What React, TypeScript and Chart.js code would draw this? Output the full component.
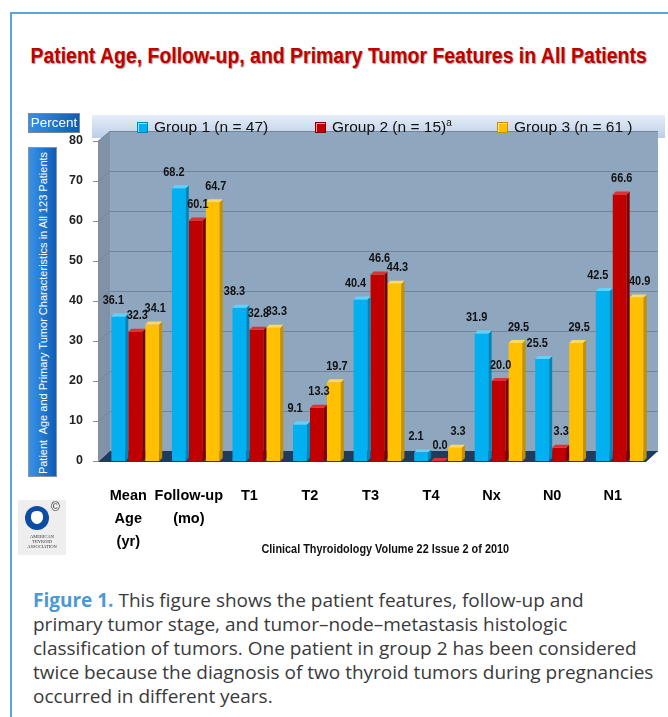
import React, { useEffect, useRef } from 'react';
import { Chart, registerables } from 'chart.js';
Chart.register(...registerables);

const categories: string[][] = [
  ['Mean', 'Age', '(yr)'],
  ['Follow-up', '(mo)'],
  ['T1'],
  ['T2'],
  ['T3'],
  ['T4'],
  ['Nx'],
  ['N0'],
  ['N1'],
];
const group1 = [36.1, 68.2, 38.3, 9.1, 40.4, 2.1, 31.9, 25.5, 42.5];
const group2 = [32.3, 60.1, 32.8, 13.3, 46.6, 0.0, 20.0, 3.3, 66.6];
const group3 = [34.1, 64.7, 33.3, 19.7, 44.3, 3.3, 29.5, 29.5, 40.9];
const seriesNames = ['Group 1 (n = 47)', 'Group 2 (n = 15)', 'Group 3 (n = 61 )'];
const seriesSup = ['', 'a', ''];
const seriesColors = ['#00b0f0', '#c00000', '#ffc000'];
const seriesSide = ['#0085b8', '#7e0000', '#c49000'];
const seriesTop = ['#5fd3ff', '#e03030', '#ffd860'];
const yMin = 0;
const yMax = 80;
const yStep = 10;

const SANS = "'Liberation Sans', Arial, sans-serif";

const labelOffsets = [-5, 2, 3];

const wallPlugin = {
  id: 'wall3d',
  beforeDraw(chart: any) {
    const { ctx, chartArea, scales } = chart;
    const y = scales.y;
    const ax = chartArea.left - 7;
    const dx = 12;
    const dy = 10;
    const right = chartArea.right + 8;
    const top = y.getPixelForValue(yMax);
    const bottom = y.getPixelForValue(yMin);
    ctx.save();
    ctx.fillStyle = '#8fa6bf';
    ctx.fillRect(ax + dx, top - dy, right - ax - dx, bottom - top);
    ctx.fillStyle = '#7f92a8';
    ctx.beginPath();
    ctx.moveTo(ax, top);
    ctx.lineTo(ax + dx, top - dy);
    ctx.lineTo(ax + dx, bottom - dy);
    ctx.lineTo(ax, bottom);
    ctx.closePath();
    ctx.fill();
    ctx.strokeStyle = '#72859b';
    ctx.lineWidth = 1;
    for (let v = yMin; v <= yMax; v += yStep) {
      const py = Math.round(y.getPixelForValue(v)) + 0.5;
      ctx.beginPath();
      ctx.moveTo(ax, py);
      ctx.lineTo(ax + dx, py - dy);
      ctx.lineTo(right, py - dy);
      ctx.stroke();
    }
    ctx.fillStyle = '#1f3b5e';
    ctx.beginPath();
    ctx.moveTo(ax, bottom + 1);
    ctx.lineTo(right - dx, bottom + 1);
    ctx.lineTo(right, bottom - dy);
    ctx.lineTo(ax + dx, bottom - dy);
    ctx.closePath();
    ctx.fill();
    ctx.strokeStyle = '#8c8c8c';
    ctx.beginPath();
    ctx.moveTo(ax + 0.5, top);
    ctx.lineTo(ax + 0.5, bottom + 1);
    for (let v = yMin; v <= yMax; v += yStep) {
      const py = Math.round(y.getPixelForValue(v)) + 0.5;
      ctx.moveTo(ax - 5, py);
      ctx.lineTo(ax, py);
    }
    ctx.stroke();
    ctx.restore();
  },
};

const bar3dPlugin = {
  id: 'bar3d',
  afterDatasetsDraw(chart: any) {
    const { ctx } = chart;
    const d = 3;
    ctx.save();
    chart.data.datasets.forEach((ds: any, i: number) => {
      const meta = chart.getDatasetMeta(i);
      meta.data.forEach((el: any) => {
        const { x, y, base, width } = el.getProps(['x', 'y', 'base', 'width'], true);
        const l = x - width / 2;
        const r = x + width / 2;
        ctx.fillStyle = seriesSide[i];
        ctx.beginPath();
        ctx.moveTo(r, y);
        ctx.lineTo(r + d, y - d);
        ctx.lineTo(r + d, base - d);
        ctx.lineTo(r, base);
        ctx.closePath();
        ctx.fill();
        ctx.fillStyle = seriesTop[i];
        ctx.beginPath();
        ctx.moveTo(l, y);
        ctx.lineTo(l + d, y - d);
        ctx.lineTo(r + d, y - d);
        ctx.lineTo(r, y);
        ctx.closePath();
        ctx.fill();
      });
    });
    ctx.restore();
  },
};

const valueLabelPlugin = {
  id: 'valueLabels',
  afterDatasetsDraw(chart: any) {
    const { ctx } = chart;
    chart.data.datasets.forEach((ds: any, i: number) => {
      const meta = chart.getDatasetMeta(i);
      meta.data.forEach((el: any, j: number) => {
        const { x, y } = el.getProps(['x', 'y'], true);
        ctx.save();
        ctx.translate(x + labelOffsets[i], y - 16);
        ctx.scale(0.84, 1);
        ctx.font = `bold 13px ${SANS}`;
        ctx.fillStyle = '#111';
        ctx.textAlign = 'center';
        ctx.textBaseline = 'middle';
        ctx.fillText(Number(ds.data[j]).toFixed(1), 0, 0);
        ctx.restore();
      });
    });
  },
};

function ChartCanvas() {
  const ref = useRef<HTMLCanvasElement | null>(null);
  useEffect(() => {
    if (!ref.current) return;
    const chart = new Chart(ref.current, {
      type: 'bar',
      data: {
        labels: categories,
        datasets: [group1, group2, group3].map((data, i) => ({
          label: seriesNames[i],
          data,
          backgroundColor: seriesColors[i],
          borderWidth: 0,
          categoryPercentage: 0.84,
          barPercentage: 0.82,
        })),
      },
      options: {
        responsive: false,
        animation: false,
        events: [],
        layout: { padding: { left: 0, right: 18, top: 141, bottom: 19 } },
        plugins: {
          legend: { display: false },
          tooltip: { enabled: false },
          title: { display: false },
        },
        scales: {
          x: {
            grid: { display: false, drawTicks: false },
            border: { display: false },
            ticks: {
              color: '#000',
              font: { family: SANS, size: 14.5, weight: 'bold', lineHeight: 1.6 },
              padding: 23,
              labelOffset: -7,
              maxRotation: 0,
              autoSkip: false,
            },
            afterFit: (s: any) => {
              s.height = 100;
            },
          },
          y: {
            min: yMin,
            max: yMax,
            grid: { display: false, drawTicks: false },
            border: { display: false },
            ticks: {
              stepSize: yStep,
              color: '#222',
              font: { family: SANS, size: 12.5, weight: 'bold' },
              padding: 22,
            },
            afterFit: (s: any) => {
              s.width = 105;
            },
          },
        },
      } as any,
      plugins: [wallPlugin, bar3dPlugin, valueLabelPlugin],
    });
    return () => chart.destroy();
  }, []);
  return (
    <canvas
      ref={ref}
      width={668}
      height={580}
      style={{ position: 'absolute', left: 0, top: 0, width: 668, height: 580 }}
    />
  );
}

const legendLefts = [137, 315, 497];

export default function App() {
  return (
    <div style={{ position: 'absolute', left: 0, top: 0, width: 668, height: 717, background: '#fff', overflow: 'hidden' }}>
      <div style={{ position: 'absolute', left: 10, top: 12, width: 2, height: 705, background: '#5aa7df' }} />
      <div style={{ position: 'absolute', left: 10, top: 12, width: 658, height: 2, background: '#5aa7df' }} />
      <div
        style={{
          position: 'absolute',
          left: -200,
          top: 43,
          width: 1077,
          textAlign: 'center',
          whiteSpace: 'nowrap',
        }}
      >
        <span
          style={{
            display: 'inline-block',
            transform: 'scaleX(0.884)',
            transformOrigin: 'center',
            fontFamily: SANS,
            fontWeight: 'bold',
            fontSize: 22,
            color: '#c00000',
            textShadow: '1px 1px 1px #9a9a9a',
          }}
        >
          Patient Age, Follow-up, and Primary Tumor Features in All Patients
        </span>
      </div>
      <div
        style={{
          position: 'absolute',
          left: 92,
          top: 115,
          width: 573,
          height: 23,
          background: 'linear-gradient(#e6edf8, #bccfe7)',
        }}
      />
      <ChartCanvas />
      {seriesNames.map((name, i) => (
        <div
          key={name}
          style={{
            position: 'absolute',
            left: legendLefts[i],
            top: 116,
            height: 22,
            display: 'flex',
            alignItems: 'center',
            fontFamily: SANS,
            fontSize: 15.5,
            color: '#111',
            whiteSpace: 'nowrap',
          }}
        >
          <span
            style={{
              display: 'inline-block',
              width: 9,
              height: 9,
              marginRight: 6,
              background: seriesColors[i],
              border: `1px solid ${seriesSide[i]}`,
              boxShadow: 'inset 1px 1px 0 rgba(255,255,255,0.6)',
            }}
          />
          <span>
            {name}
            {seriesSup[i] ? <sup style={{ fontSize: 10 }}>{seriesSup[i]}</sup> : null}
          </span>
        </div>
      ))}
      <div
        style={{
          position: 'absolute',
          left: 28,
          top: 113,
          width: 52,
          height: 20,
          background: 'linear-gradient(90deg, #3591e6, #0d5cb6)',
          border: '1px solid #7a8796',
          boxSizing: 'border-box',
          color: '#fff',
          fontFamily: SANS,
          fontSize: 13.5,
          lineHeight: '18px',
          textAlign: 'center',
        }}
      >
        Percent
      </div>
      <div
        style={{
          position: 'absolute',
          left: 28,
          top: 147,
          width: 29,
          height: 330,
          background: 'linear-gradient(90deg, #3a93e8, #0e5db8)',
          border: '1px solid #8a94a0',
          boxSizing: 'border-box',
        }}
      >
        <div
          style={{
            position: 'absolute',
            left: 14,
            top: 165,
            transform: 'translate(-50%, -50%) rotate(-90deg)',
            whiteSpace: 'nowrap',
            color: '#fff',
            fontFamily: SANS,
            fontSize: 11,
          }}
        >
          Patient&nbsp; Age and Primary Tumor Characteristics in All 123 Patients
        </div>
      </div>
      <div
        style={{
          position: 'absolute',
          left: 18,
          top: 500,
          width: 48,
          height: 55,
          background: '#eeeeee',
        }}
      >
        <div
          style={{
            position: 'absolute',
            left: 7,
            top: 6,
            width: 24,
            height: 24,
            borderRadius: '50%',
            background: '#0b4da2',
          }}
        >
          <div
            style={{
              position: 'absolute',
              left: 6,
              top: 5,
              width: 12,
              height: 13,
              borderRadius: '40% 40% 50% 50%',
              background: '#fff',
            }}
          />
        </div>
        <div style={{ position: 'absolute', left: 33, top: 0, fontSize: 12, color: '#333', fontFamily: SANS }}>©</div>
        <div
          style={{
            position: 'absolute',
            left: 0,
            top: 34,
            width: 48,
            textAlign: 'center',
            fontFamily: "'Liberation Serif', serif",
            fontSize: 4.5,
            lineHeight: '5px',
            color: '#333',
          }}
        >
          AMERICAN
          <br />
          THYROID
          <br />
          ASSOCIATION
        </div>
      </div>
      <div
        style={{
          position: 'absolute',
          left: 51,
          top: 539,
          width: 668,
          textAlign: 'center',
          whiteSpace: 'nowrap',
        }}
      >
        <span
          style={{
            display: 'inline-block',
            transform: 'scaleX(0.87)',
            transformOrigin: 'center',
            fontFamily: SANS,
            fontWeight: 'bold',
            fontSize: 12.5,
            color: '#111',
          }}
        >
          Clinical Thyroidology Volume 22 Issue 2 of 2010
        </span>
      </div>
      <div
        style={{
          position: 'absolute',
          left: 33,
          top: 588,
          fontFamily: "'Open Sans', sans-serif",
          fontSize: 19,
          lineHeight: '24px',
          color: '#3a3a3a',
          whiteSpace: 'nowrap',
        }}
      >
        <span style={{ color: '#4a9ad6', fontWeight: 'bold' }}>Figure 1.</span> This figure shows the patient features, follow-up and
        <br />
        primary tumor stage, and tumor–node–metastasis histologic
        <br />
        classification of tumors. One patient in group 2 has been considered
        <br />
        twice because the diagnosis of two thyroid tumors during pregnancies
        <br />
        occurred in different years.
      </div>
    </div>
  );
}
